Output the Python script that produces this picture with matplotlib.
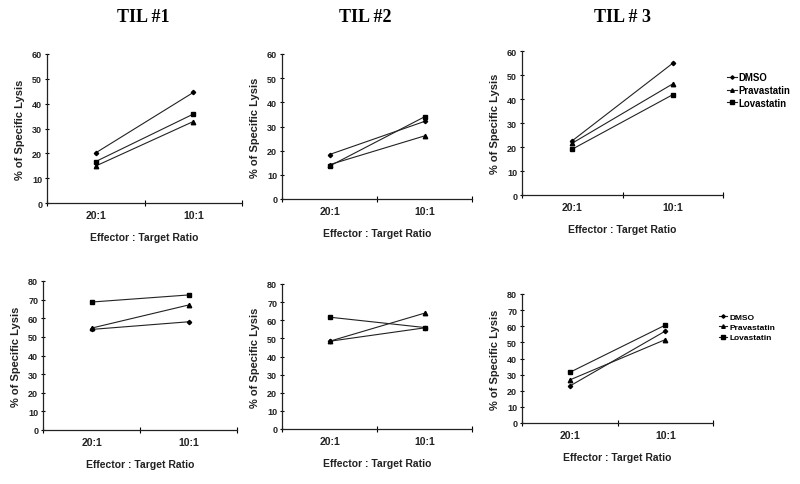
import matplotlib
matplotlib.use("Agg")
import matplotlib.pyplot as plt

# Kategorie i serie
ratios = ["20:1", "10:1"]
series = ["DMSO", "Pravastatin", "Lovastatin"]
titles = ["TIL #1", "TIL #2", "TIL # 3"]

# Górny rząd: po jednej parze (20:1, 10:1) na każdy TIL
dmso_top = [[20.2, 44.5], [18.4, 32.1], [22.6, 54.9]]
prava_top = [[14.9, 32.8], [14.2, 26.1], [21.6, 46.3]]
lova_top = [[16.7, 35.8], [13.6, 34.0], [19.1, 41.8]]

# Dolny rząd
dmso_bottom = [[54.0, 58.1], [48.4, 55.8], [22.9, 57.0]]
prava_bottom = [[54.7, 67.1], [48.4, 63.9], [26.7, 51.7]]
lova_bottom = [[68.7, 72.5], [61.7, 56.0], [31.4, 60.7]]

ymax_top = 60
ymax_bottom = 80

W, H = 800, 485
# pozycje osi w pikselach: (lewo, góra, prawo, dół)
boxes_top = [(47, 55, 242, 204), (282, 55, 472, 200), (522, 52, 723, 196)]
boxes_bottom = [(43, 282, 237, 431), (282, 285, 472, 430), (522, 295, 713, 424)]

markers = {"DMSO": ("D", 2.2), "Pravastatin": ("^", 3.2), "Lovastatin": ("s", 3.4)}
line_color = "#222222"
sans = "Liberation Sans"

fig = plt.figure(figsize=(W / 100, H / 100), dpi=100)


def make_axes(box):
    l, t, r, b = box
    return fig.add_axes([l / W, 1 - b / H, (r - l) / W, (b - t) / H])


def draw_panel(ax, values, ymax):
    for name, vals in zip(series, values):
        m, ms = markers[name]
        ax.plot([0.5, 1.5], vals, color=line_color, lw=0.8,
                marker=m, ms=ms, mfc="black", mec="black", label=name)
    ax.set_xlim(0, 2)
    ax.set_ylim(0, ymax)
    ax.set_yticks(range(0, ymax + 1, 10))
    ax.set_xticks([0.5, 1.5])
    ax.set_xticklabels(ratios)
    ax.set_xticks([0, 1, 2], minor=True)
    ax.tick_params(axis="x", which="major", length=0, pad=5,
                   labelsize=7.5)
    ax.tick_params(axis="x", which="minor", length=4, direction="inout",
                   width=0.8)
    ax.tick_params(axis="y", length=3, direction="inout", width=0.8,
                   labelsize=6.5, pad=2)
    for lbl in ax.get_xticklabels() + ax.get_yticklabels():
        lbl.set_fontfamily(sans)
        lbl.set_fontweight("bold")
        lbl.set_color("#222222")
    for s in ["top", "right"]:
        ax.spines[s].set_visible(False)
    for s in ["left", "bottom"]:
        ax.spines[s].set_linewidth(0.9)
        ax.spines[s].set_color("#222222")
    ax.set_ylabel("% of Specific Lysis", fontfamily=sans, fontweight="bold",
                  fontsize=8, labelpad=5, color="#222222")
    ax.set_xlabel("Effector : Target Ratio", fontfamily=sans,
                  fontweight="bold", fontsize=7.5, labelpad=9,
                  color="#222222")


rows = [
    (boxes_top, [dmso_top, prava_top, lova_top], ymax_top),
    (boxes_bottom, [dmso_bottom, prava_bottom, lova_bottom], ymax_bottom),
]

axes_rows = []
for boxes, data, ymax in rows:
    row_axes = []
    for i, box in enumerate(boxes):
        ax = make_axes(box)
        vals = [d[i] for d in data]
        draw_panel(ax, vals, ymax)
        row_axes.append(ax)
    axes_rows.append(row_axes)

# Legendy przy trzecim panelu
legend_spec = [(axes_rows[0][2], 727, 73, 6.9), (axes_rows[1][2], 719, 314, 6.0)]
for ax, x, y, fs in legend_spec:
    ax.legend(loc="upper left", bbox_to_anchor=(x / W, 1 - y / H),
              bbox_transform=fig.transFigure, frameon=False,
              prop={"family": sans, "weight": "bold", "size": fs},
              handlelength=1.0, handletextpad=0.2, labelspacing=0.3,
              borderaxespad=0, borderpad=0, markerscale=0.8)

# Tytuły TIL
for title, xc in zip(titles, [143, 365, 622]):
    fig.text(xc / W, 1 - 18 / H, title, ha="center", va="center",
             fontfamily="Liberation Serif", fontweight="bold", fontsize=13)

fig.savefig("out.png", dpi=100)
